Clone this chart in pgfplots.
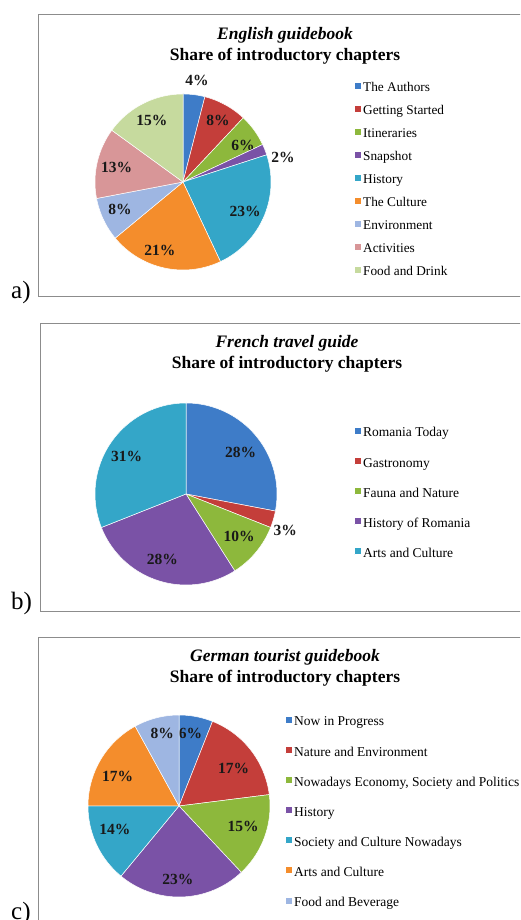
\documentclass[border=0pt]{standalone}
\usepackage{pgfplots}
\pgfplotsset{compat=1.18}
\usepackage{fontspec}
\setmainfont{Liberation Serif}

\definecolor{cBlue}{RGB}{62,124,200}
\definecolor{cRed}{RGB}{196,62,58}
\definecolor{cGreen}{RGB}{141,184,60}
\definecolor{cPurple}{RGB}{122,82,166}
\definecolor{cAqua}{RGB}{52,166,200}
\definecolor{cOrange}{RGB}{244,141,44}
\definecolor{cEnv}{RGB}{158,182,226}
\definecolor{cPink}{RGB}{216,150,152}
\definecolor{cLGreen}{RGB}{198,218,158}
\definecolor{boxgray}{RGB}{140,140,140}

\tikzset{
  slice/.style={draw=white, line width=0.5pt, line join=round},
  pct/.style={font=\bfseries\fontsize{15.5}{17}\selectfont, text=black!90, inner sep=0pt},
  ttl/.style={font=\bfseries\fontsize{17.5}{20}\selectfont, anchor=base},
  ttli/.style={font=\bfseries\itshape\fontsize{17.5}{20}\selectfont, anchor=base},
}

\pgfplotsset{
  pieax/.style={hide axis, scale only axis, width=#1, height=#1,
    xmin=-1, xmax=1, ymin=-1, ymax=1, clip=false, anchor=south west,
    legend cell align=left,
    legend image code/.code={\fill[##1] (0pt,-0.5pt) rectangle (7pt,6.5pt);},
  },
}

% #1 value (%), #2 colour, #3 legend text, #4 label radius factor, #5 label angle shift
\newcommand\pieslice[5]{%
  \pgfmathsetmacro\sa{90-3.6*\cum}%
  \pgfmathsetmacro\ea{90-3.6*(\cum+#1)}%
  \gdef\pts{(0,0)}%
  \foreach \k in {0,...,48}{%
    \pgfmathsetmacro\tang{\sa+(\ea-\sa)*\k/48}%
    \pgfmathsetmacro\pcx{cos(\tang)}%
    \pgfmathsetmacro\pcy{sin(\tang)}%
    \xdef\pts{\pts(\pcx,\pcy)}%
  }%
  \edef\temp{\noexpand\addplot[slice, fill=#2] coordinates {\pts(0,0)};}%
  \temp
  \addlegendentry{#3}%
  \pgfmathsetmacro\ma{(\sa+\ea)/2+#5}%
  \pgfmathsetmacro\lx{#4*cos(\ma)}%
  \pgfmathsetmacro\ly{#4*sin(\ma)}%
  \edef\temp{\noexpand\node[pct] at (axis cs:\lx,\ly) {#1\noexpand\%};}%
  \temp
  \pgfmathsetmacro\newcum{\cum+#1}%
  \xdef\cum{\newcum}%
}

\begin{document}
\begin{tikzpicture}[x=1pt, y=1pt]
\useasboundingbox (0,0) rectangle (520,920);
\clip (0,0) rectangle (520,920);

% frames
\draw[boxgray, line width=0.9pt] (38,906) rectangle (545,624);
\draw[boxgray, line width=0.9pt] (40,597) rectangle (545,309);
\draw[boxgray, line width=0.9pt] (38.5,283) rectangle (545,-20);

% panel letters
\node[anchor=base west, inner sep=0pt, font=\fontsize{25}{28}\selectfont] at (11,621.7) {a)};
\node[anchor=base west, inner sep=0pt, font=\fontsize{25}{28}\selectfont] at (11,310.7) {b)};
\node[anchor=base west, inner sep=0pt, font=\fontsize{25}{28}\selectfont] at (11,0.5) {c)};

% titles
\node[ttli] at (285,880) {English guidebook};
\node[ttl]  at (285,859) {Share of introductory chapters};
\node[ttli] at (287,572) {French travel guide};
\node[ttl]  at (287,551) {Share of introductory chapters};
\node[ttli] at (285,258) {German tourist guidebook};
\node[ttl]  at (285,237) {Share of introductory chapters};

% ---- a) English guidebook
\gdef\cum{0}
\begin{axis}[pieax=176pt, at={(95pt,650pt)},
  legend style={at={(axis description cs:1.4715,1.068)}, anchor=north west,
    draw=none, fill=none, inner sep=0pt, row sep=10.2pt,
    font=\fontsize{13.3}{14}\selectfont,
    nodes={inner sep=0pt, inner xsep=1.5pt, text height=9pt, text depth=3pt}}]
\pieslice{4}{cBlue}{The Authors}{1.16}{-0.7}
\pieslice{8}{cRed}{Getting Started}{0.80}{-1}
\pieslice{6}{cGreen}{Itineraries}{0.80}{-4.3}
\pieslice{2}{cPurple}{Snapshot}{1.17}{-7.6}
\pieslice{23}{cAqua}{History}{0.78}{-1.6}
\pieslice{21}{cOrange}{The Culture}{0.82}{-6.1}
\pieslice{8}{cEnv}{Environment}{0.78}{-2}
\pieslice{13}{cPink}{Activities}{0.77}{0.6}
\pieslice{15}{cLGreen}{Food and Drink}{0.78}{0}
\end{axis}

% ---- b) French travel guide
\gdef\cum{0}
\begin{axis}[pieax=182pt, at={(95pt,335pt)},
  legend style={at={(axis description cs:1.423,0.868)}, anchor=north west,
    draw=none, fill=none, inner sep=0pt, row sep=17.3pt,
    font=\fontsize{13.5}{14}\selectfont,
    nodes={inner sep=0pt, inner xsep=1.5pt, text height=9pt, text depth=3pt}}]
\pieslice{28}{cBlue}{Romania Today}{0.75}{-2.6}
\pieslice{3}{cRed}{Gastronomy}{1.16}{-3.8}
\pieslice{10}{cGreen}{Fauna and Nature}{0.75}{0.6}
\pieslice{28}{cPurple}{History of Romania}{0.76}{-2}
\pieslice{31}{cAqua}{Arts and Culture}{0.77}{2.2}
\end{axis}

% ---- c) German tourist guidebook
\gdef\cum{0}
\begin{axis}[pieax=182pt, at={(88pt,23pt)},
  legend style={at={(axis description cs:1.0825,0.9945)}, anchor=north west,
    draw=none, fill=none, inner sep=0pt, row sep=17.3pt,
    font=\fontsize{13.5}{14}\selectfont,
    nodes={inner sep=0pt, inner xsep=1.5pt, text height=9pt, text depth=3pt}}]
\pieslice{6}{cBlue}{Now in Progress}{0.81}{1.8}
\pieslice{17}{cRed}{Nature and Environment}{0.73}{-3.2}
\pieslice{15}{cGreen}{Nowadays Economy, Society and Politics}{0.74}{1.8}
\pieslice{23}{cPurple}{History}{0.81}{-2.6}
\pieslice{14}{cAqua}{Society and Culture Nowadays}{0.75}{-5.2}
\pieslice{17}{cOrange}{Arts and Culture}{0.75}{4.6}
\pieslice{8}{cEnv}{Food and Beverage}{0.82}{-1.4}
\end{axis}
\end{tikzpicture}
\end{document}
